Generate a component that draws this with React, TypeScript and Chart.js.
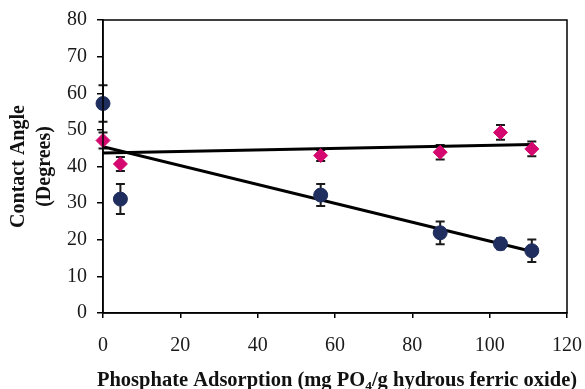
import React, { useEffect, useRef } from "react";
import { Chart, registerables } from "chart.js";

Chart.register(...registerables);

// Data
const adsorption = [0, 4.5, 56.3, 87.2, 102.8, 110.9];
const blueAngle = [57.2, 31.1, 32.2, 21.9, 18.9, 17.0];
const blueErr = [5.0, 4.1, 3.0, 3.1, 1.5, 3.1];
const pinkAngle = [47.1, 40.7, 43.0, 43.9, 49.3, 44.8];
const pinkErr = [2.2, 1.9, 1.5, 2.0, 2.0, 2.0];

const trendX = [0, 111];
const blueTrend = [45.4, 16.8];
const pinkTrend = [43.7, 46.0];

const xTicks = [0, 20, 40, 60, 80, 100, 120];
const yTicks = [0, 10, 20, 30, 40, 50, 60, 70, 80];

const xTitleParts = ["Phosphate Adsorption (mg PO", "4", "/g hydrous ferric oxide)"];
const yTitleLines = ["Contact Angle", "(Degrees)"];

const FONT = "'Liberation Serif', 'Times New Roman', serif";

const errorBarPlugin = {
  id: "errorBars",
  beforeDatasetsDraw(chart: any) {
    const { ctx, scales } = chart;
    const xs = scales.x;
    const ys = scales.y;
    const sets = [
      { vals: blueAngle, errs: blueErr },
      { vals: pinkAngle, errs: pinkErr },
    ];
    ctx.save();
    ctx.strokeStyle = "#1a1a1a";
    ctx.lineWidth = 2;
    sets.forEach((s) => {
      s.vals.forEach((v, i) => {
        const px = xs.getPixelForValue(adsorption[i]);
        const top = ys.getPixelForValue(v + s.errs[i]);
        const bot = ys.getPixelForValue(v - s.errs[i]);
        ctx.beginPath();
        ctx.moveTo(px, top);
        ctx.lineTo(px, bot);
        ctx.moveTo(px - 4.5, top);
        ctx.lineTo(px + 4.5, top);
        ctx.moveTo(px - 4.5, bot);
        ctx.lineTo(px + 4.5, bot);
        ctx.stroke();
      });
    });
    ctx.restore();
  },
  afterDraw(chart: any) {
    const { ctx, chartArea } = chart;
    ctx.save();
    ctx.strokeStyle = "#000";
    ctx.lineWidth = 1.5;
    ctx.strokeRect(chartArea.left, chartArea.top, chartArea.right - chartArea.left, chartArea.bottom - chartArea.top);

    // x-axis title with subscript
    const mainFont = `bold 20.5px ${FONT}`;
    const subFont = `bold 13.5px ${FONT}`;
    ctx.fillStyle = "#111";
    ctx.textBaseline = "alphabetic";
    ctx.textAlign = "left";
    ctx.font = mainFont;
    const w0 = ctx.measureText(xTitleParts[0]).width;
    const w2 = ctx.measureText(xTitleParts[2]).width;
    ctx.font = subFont;
    const w1 = ctx.measureText(xTitleParts[1]).width;
    const total = w0 + w1 + w2;
    const cx = (chartArea.left + chartArea.right) / 2 + 2;
    const baseY = chartArea.bottom + 72.5;
    let x = cx - total / 2;
    ctx.font = mainFont;
    ctx.fillText(xTitleParts[0], x, baseY);
    x += w0;
    ctx.font = subFont;
    ctx.fillText(xTitleParts[1], x, baseY + 4);
    x += w1;
    ctx.font = mainFont;
    ctx.fillText(xTitleParts[2], x, baseY);
    ctx.restore();
  },
};

export default function App() {
  const ref = useRef<HTMLCanvasElement | null>(null);
  useEffect(() => {
    if (!ref.current) return;
    const chart = new Chart(ref.current, {
      type: "scatter",
      data: {
        datasets: [
          {
            type: "scatter",
            data: adsorption.map((x, i) => ({ x, y: blueAngle[i] })),
            backgroundColor: "#1f2e5e",
            borderColor: "#1f2e5e",
            pointStyle: "circle",
            pointRadius: 7,
            clip: false,
            order: 1,
          },
          {
            type: "scatter",
            data: adsorption.map((x, i) => ({ x, y: pinkAngle[i] })),
            backgroundColor: "#d4086e",
            borderColor: "#d4086e",
            pointStyle: "rectRot",
            pointRadius: 7,
            clip: false,
            order: 1,
          },
          {
            type: "line",
            data: trendX.map((x, i) => ({ x, y: blueTrend[i] })),
            borderColor: "#000",
            borderWidth: 3,
            pointRadius: 0,
            showLine: true,
            order: 2,
          },
          {
            type: "line",
            data: trendX.map((x, i) => ({ x, y: pinkTrend[i] })),
            borderColor: "#000",
            borderWidth: 3,
            pointRadius: 0,
            showLine: true,
            order: 2,
          },
        ],
      },
      options: {
        animation: false,
        responsive: false,
        maintainAspectRatio: false,
        layout: { padding: { top: 20, right: 18, left: 0, bottom: 0 } },
        plugins: { legend: { display: false }, tooltip: { enabled: false } },
        scales: {
          x: {
            type: "linear",
            min: 0,
            max: 120,
            afterBuildTicks: (s: any) => {
              s.ticks = xTicks.map((v) => ({ value: v }));
            },
            afterFit: (s: any) => {
              s.height = 76;
              s.paddingLeft = 0;
              s.paddingRight = 0;
            },
            grid: { drawOnChartArea: false, color: "#000", tickLength: 5, lineWidth: 1.5 },
            border: { color: "#000", width: 1.5 },
            ticks: { color: "#1a1a1a", font: { family: FONT, size: 20 }, padding: 16 },
            title: { display: false },
          },
          y: {
            type: "linear",
            min: 0,
            max: 80,
            afterBuildTicks: (s: any) => {
              s.ticks = yTicks.map((v) => ({ value: v }));
            },
            afterFit: (s: any) => {
              s.width = 103;
              s.paddingTop = 0;
              s.paddingBottom = 0;
            },
            grid: { drawOnChartArea: false, color: "#000", tickLength: 6, lineWidth: 1.5 },
            border: { color: "#000", width: 1.5 },
            ticks: { color: "#1a1a1a", font: { family: FONT, size: 20 }, padding: 10 },
            title: {
              display: true,
              text: yTitleLines,
              color: "#111",
              font: { family: FONT, size: 20, weight: "bold", lineHeight: 1.3 },
              padding: { top: 6, bottom: 0 },
            },
          },
        },
      },
      plugins: [errorBarPlugin],
    } as any);
    return () => chart.destroy();
  }, []);
  return (
    <div style={{ position: "fixed", left: 0, top: 0, width: 585, height: 389, background: "#fff" }}>
      <canvas ref={ref} width={585} height={389} style={{ display: "block", width: 585, height: 389 }} />
    </div>
  );
}
